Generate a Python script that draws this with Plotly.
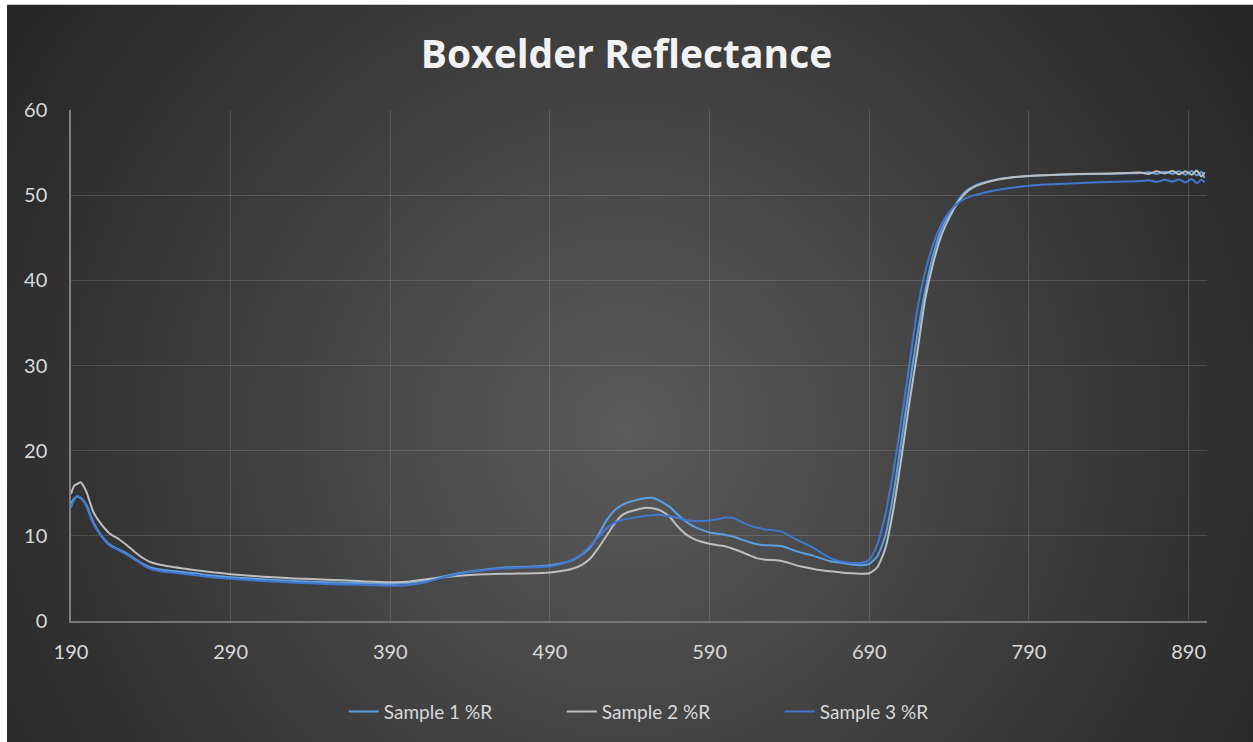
import base64
import struct
import zlib

import numpy as np
import plotly.graph_objects as go

# ---------------- data ----------------
wavelength = [190, 192, 194, 196, 198, 200, 204, 208, 214, 220, 225, 230, 235, 240, 246,
              255, 267, 280, 290, 310, 330, 350, 370, 380, 390, 400, 410, 420, 430, 440,
              450, 460, 470, 480, 490, 495, 500, 505, 510, 515, 520, 525, 530, 535, 540,
              545, 550, 555, 560, 565, 570, 575, 580, 585, 590, 595, 600, 605, 610, 615,
              620, 625, 630, 635, 640, 645, 650, 655, 660, 665, 670, 675, 680, 685, 690,
              695, 700, 705, 710, 715, 720, 725, 730, 735, 740, 745, 750, 755, 760, 770,
              780, 790, 800, 820, 840, 850, 860, 865, 870, 875, 880, 884, 888, 892, 895,
              898, 900]

sample1 = [13.8, 14.4, 14.6, 14.5, 14.1, 13.5, 11.6, 10.3, 9.0, 8.4, 7.9, 7.3, 6.7, 6.3, 6.05,
           5.85, 5.6, 5.3, 5.15, 4.9, 4.7, 4.55, 4.45, 4.4, 4.35, 4.45, 4.7, 5.1, 5.5, 5.8,
           6.05, 6.25, 6.35, 6.4, 6.55, 6.7, 6.9, 7.2, 7.8, 8.6, 10.0, 11.7, 12.9, 13.6, 14.0,
           14.25, 14.45, 14.45, 14.0, 13.4, 12.5, 11.7, 11.1, 10.7, 10.4, 10.25, 10.1, 9.9, 9.55, 9.25,
           9.0, 8.9, 8.87, 8.8, 8.5, 8.15, 7.9, 7.65, 7.35, 7.05, 6.9, 6.75, 6.6, 6.55, 6.7,
           7.6, 10.0, 14.8, 21.0, 27.5, 33.5, 38.8, 43.0, 45.9, 47.7, 49.2, 50.4, 51.0, 51.4, 51.85,
           52.1, 52.25, 52.35, 52.45, 52.5, 52.55, 52.6, 52.7, 52.5, 52.75, 52.5, 52.8, 52.4, 52.85, 52.3,
           52.75, 52.0]

sample2 = [14.9, 15.9, 16.1, 16.3, 15.8, 15.0, 12.8, 11.6, 10.3, 9.6, 8.9, 8.1, 7.4, 6.9, 6.6,
           6.3, 6.0, 5.7, 5.5, 5.2, 5.0, 4.85, 4.7, 4.6, 4.55, 4.6, 4.85, 5.05, 5.25, 5.4,
           5.5, 5.55, 5.57, 5.6, 5.7, 5.8, 5.95, 6.2, 6.6, 7.3, 8.5, 9.9, 11.3, 12.4, 12.85,
           13.1, 13.3, 13.2, 12.9, 12.2, 11.1, 10.2, 9.65, 9.3, 9.06, 8.9, 8.75, 8.45, 8.1, 7.7,
           7.35, 7.2, 7.15, 7.05, 6.8, 6.5, 6.3, 6.1, 5.95, 5.85, 5.75, 5.65, 5.6, 5.55, 5.6,
           6.3, 8.5, 13.0, 19.0, 25.5, 31.5, 37.8, 42.0, 45.2, 47.3, 49.0, 50.2, 50.9, 51.3, 51.8,
           52.1, 52.25, 52.35, 52.5, 52.55, 52.6, 52.65, 52.5, 52.8, 52.55, 52.85, 52.45, 52.8, 52.4, 52.9,
           52.2, 52.7]

sample3 = [13.3, 14.2, 14.7, 14.4, 14.0, 13.3, 11.4, 10.2, 8.9, 8.3, 7.8, 7.2, 6.6, 6.1, 5.85,
           5.65, 5.4, 5.1, 4.95, 4.7, 4.5, 4.35, 4.25, 4.2, 4.15, 4.2, 4.45, 4.95, 5.4, 5.75,
           6.0, 6.15, 6.25, 6.3, 6.4, 6.6, 6.9, 7.3, 7.9, 8.8, 9.8, 10.8, 11.5, 11.85, 12.05,
           12.2, 12.35, 12.45, 12.45, 12.3, 12.1, 11.85, 11.75, 11.75, 11.8, 11.95, 12.15, 12.1, 11.6, 11.2,
           10.95, 10.75, 10.65, 10.5, 10.0, 9.5, 9.05, 8.6, 8.0, 7.45, 7.1, 6.9, 6.8, 6.8, 7.2,
           9.0, 12.5, 17.5, 23.5, 30.0, 36.5, 41.0, 44.2, 46.5, 48.0, 49.0, 49.6, 49.95, 50.2, 50.6,
           50.9, 51.1, 51.25, 51.4, 51.55, 51.6, 51.65, 51.75, 51.55, 51.8, 51.6, 51.85, 51.5, 51.9, 51.4,
           51.8, 51.5]

series_names = ["Sample 1 %R", "Sample 2 %R", "Sample 3 %R"]
x_ticks = [190, 290, 390, 490, 590, 690, 790, 890]
y_ticks = [0, 10, 20, 30, 40, 50, 60]

# ---------------- styling ----------------
W, H = 1253, 742
PL, PR, PT, PB = 71, 1207.5, 110.5, 622.3          # plot area pixel box
pw, ph = PR - PL, PB - PT
colors = ["#5B9FE0", "#BEBEBE", "#4277CF"]
FONT = "Lato"
EDGE = "#282828"


def make_png(arr):
    h, w, _ = arr.shape
    raw = b"".join(b"\x00" + arr[i].tobytes() for i in range(h))

    def chunk(t, d):
        c = struct.pack(">I", len(d)) + t + d
        return c + struct.pack(">I", zlib.crc32(t + d) & 0xFFFFFFFF)

    return (b"\x89PNG\r\n\x1a\n"
            + chunk(b"IHDR", struct.pack(">IIBBBBB", w, h, 8, 2, 0, 0, 0))
            + chunk(b"IDAT", zlib.compress(raw, 9))
            + chunk(b"IEND", b""))


# radial dark gradient background of the chart area (extends past the page edge)
bx0, by0 = 7, 5
bw, bh = W + 20 - bx0, H + 20 - by0
step = 4
gw, gh = int(np.ceil(bw / step)), int(np.ceil(bh / step))
gx = bx0 + (np.arange(gw) + 0.5) * step
gy = by0 + (np.arange(gh) + 0.5) * step
XX, YY = np.meshgrid(gx, gy)
r = np.hypot(XX - 626, YY - 430)
val = np.clip(91 - 0.071 * r, 38, 255).astype(np.uint8)
img = np.stack([val, val, val], axis=-1)
src = "data:image/png;base64," + base64.b64encode(make_png(img)).decode()

fig = go.Figure()
for name, ys, c in zip(series_names, [sample1, sample2, sample3], colors):
    fig.add_trace(go.Scatter(x=wavelength, y=ys, name=name, mode="lines",
                             line=dict(color=c, width=2, shape="spline", smoothing=0.6)))

fig.add_layout_image(dict(source=src, xref="paper", yref="paper",
                          x=(bx0 - PL) / pw, y=(PB - by0) / ph,
                          sizex=gw * step / pw, sizey=gh * step / ph,
                          xanchor="left", yanchor="top", sizing="stretch", layer="below"))

# thin white page strips along the top and left edge (outside the chart frame)
fig.add_shape(type="rect", xref="paper", yref="paper", layer="below",
              x0=(-5 - PL) / pw, x1=(bx0 - PL) / pw, y0=(PB - H - 10) / ph, y1=(PB + 5) / ph,
              fillcolor="white", line=dict(width=0))
fig.add_shape(type="rect", xref="paper", yref="paper", layer="below",
              x0=(-5 - PL) / pw, x1=(W + 10 - PL) / pw, y0=(PB - by0) / ph, y1=(PB + 5) / ph,
              fillcolor="white", line=dict(width=0))

grid = "rgba(255,255,255,0.14)"
fig.update_layout(
    width=W, height=H,
    margin=dict(l=PL, r=W - PR, t=PT, b=H - PB, pad=0),
    paper_bgcolor=EDGE, plot_bgcolor="rgba(0,0,0,0)",
    font=dict(family=FONT, color="#D9D9D9", size=20),
    title=dict(text="<b>Boxelder Reflectance</b>", x=0.5, xref="container", xanchor="center",
               y=1 - 54 / H, yref="container", yanchor="middle",
               font=dict(family="Open Sans", size=39, color="#F2F2F2")),
    xaxis=dict(range=[190, 901.5], tickvals=x_ticks, ticktext=[str(t) for t in x_ticks],
               showgrid=True, gridcolor=grid, gridwidth=1, zeroline=False,
               showline=True, linecolor="#767676", linewidth=1.5, ticks="",
               ticklabelstandoff=12, tickfont=dict(size=20, color="#D9D9D9")),
    yaxis=dict(range=[0, 60], tickvals=y_ticks, showgrid=True, gridcolor=grid, gridwidth=1,
               zeroline=False, showline=True, linecolor="#808080", linewidth=1.5, ticks="",
               ticklabelstandoff=18, tickfont=dict(size=20, color="#D9D9D9")),
    legend=dict(orientation="h", x=0.528, xanchor="center", y=(PB - 712) / ph, yanchor="middle",
                bgcolor="rgba(0,0,0,0)", font=dict(size=19, color="#D9D9D9"),
                entrywidth=173, entrywidthmode="pixels"),
    showlegend=True,
)

fig.write_html("out.html", config={"displayModeBar": False},
               post_script=("document.body.style.margin='0';"
                            "document.body.style.overflow='hidden';"
                            "document.body.style.background='" + EDGE + "';"))
